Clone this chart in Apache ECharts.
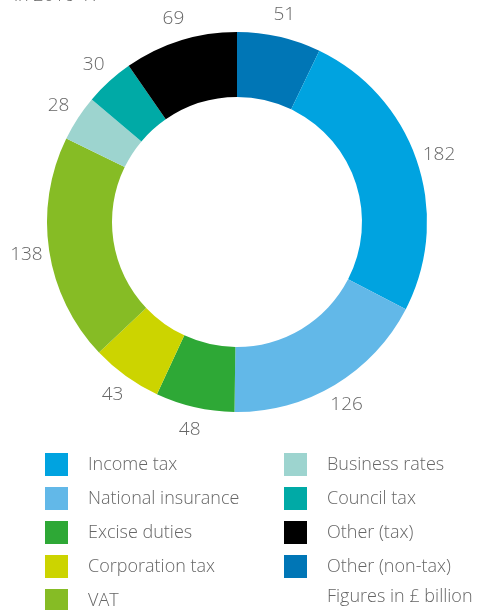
<!DOCTYPE html>
<html>
<head>
<meta charset="utf-8">
<script src="https://cdn.jsdelivr.net/npm/echarts@6/dist/echarts.min.js"></script>
<style>
  html, body { margin: 0; padding: 0; background: #fff; }
  #chart { width: 495px; height: 610px; }
</style>
</head>
<body>
<div id="chart"></div>
<script>
// slices, clockwise from 12 o'clock
var names = ['Other (non-tax)', 'Income tax', 'National insurance', 'Excise duties',
             'Corporation tax', 'VAT', 'Business rates', 'Council tax', 'Other (tax)'];
var values = [51, 182, 126, 48, 43, 138, 28, 30, 69];
var colors = ['#0076b6', '#00a3e0', '#62b8e8', '#2ea836',
              '#ccd400', '#86bc25', '#9dd4cf', '#00aaa6', '#000000'];

var legendLeft = ['Income tax', 'National insurance', 'Excise duties', 'Corporation tax', 'VAT'];
var legendRight = ['Business rates', 'Council tax', 'Other (tax)', 'Other (non-tax)'];

var font = '"Open Sans", sans-serif';
var grey = '#666';

var pieData = names.map(function (n, i) {
  return { name: n, value: values[i], itemStyle: { color: colors[i] } };
});
var labelData = names.map(function (n, i) {
  return { name: n, value: values[i] };
});

var legendBase = {
  orient: 'vertical',
  top: 453,
  height: 170,
  padding: 0,
  itemWidth: 23,
  itemHeight: 23,
  itemGap: 11,
  icon: 'rect',
  selectedMode: false,
  textStyle: {
    fontFamily: font,
    fontWeight: 300,
    fontSize: 18,
    color: grey,
    padding: [0, 0, 0, 15]
  }
};

var option = {
  backgroundColor: '#fff',
  animation: false,
  graphic: [{
    // subtitle, mostly cut off at the top edge
    type: 'text',
    x: 14,
    y: 5,
    style: {
      text: 'in 2016-17',
      font: '300 18px "Open Sans", sans-serif',
      fill: grey,
      verticalAlign: 'bottom'
    }
  }, {
    type: 'text',
    left: 327,
    top: 588,
    style: {
      text: 'Figures in £ billion',
      font: '300 18px "Open Sans", sans-serif',
      fill: grey
    }
  }],
  legend: [
    Object.assign({}, legendBase, { left: 45, data: legendLeft }),
    Object.assign({}, legendBase, { left: 284, data: legendRight })
  ],
  series: [
    {
      type: 'pie',
      center: [237, 222],
      radius: [125, 190],
      startAngle: 90,
      clockwise: true,
      silent: true,
      label: { show: false },
      labelLine: { show: false },
      data: pieData
    },
    {
      // invisible ring that only carries the value labels
      type: 'pie',
      center: [237, 222],
      radius: [208, 212],
      startAngle: 90,
      clockwise: true,
      silent: true,
      itemStyle: { color: 'rgba(0,0,0,0)' },
      label: {
        show: true,
        position: 'inside',
        formatter: '{c}',
        fontFamily: font,
        fontWeight: 300,
        fontSize: 19,
        color: grey
      },
      labelLine: { show: false },
      data: labelData
    }
  ]
};

var myChart = echarts.init(document.getElementById('chart'));
myChart.setOption(option);
</script>
</body>
</html>
